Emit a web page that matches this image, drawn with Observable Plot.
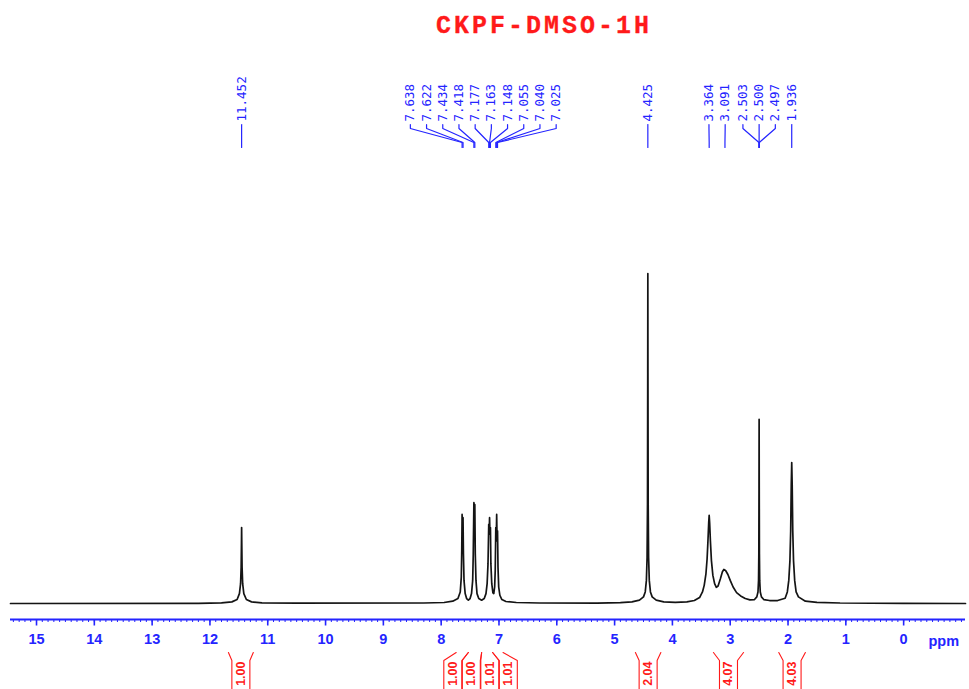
<!DOCTYPE html>
<html><head><meta charset="utf-8">
<script src="https://cdn.jsdelivr.net/npm/d3@7"></script>
<script src="https://cdn.jsdelivr.net/npm/@observablehq/plot@0.6"></script>
<style>
body{margin:0;background:#fff}
#chart{width:969px;height:689px;overflow:hidden}
</style>
</head><body><div id="chart"></div>
<script>
// ---------- data ----------
const title = "CKPF-DMSO-1H";
const axisUnit = "ppm";
const majorTicks = [15,14,13,12,11,10,9,8,7,6,5,4,3,2,1,0];
const majorTickLabels = ["15","14","13","12","11","10","9","8","7","6","5","4","3","2","1","0"];

// spectrum trace (ppm, relative intensity, tallest = 100)
const tracePpm = [15.45,12.20,11.80,11.62,11.53,11.49,11.47,11.46,11.455,11.452,11.449,11.444,11.434,11.414,11.37,11.28,11.10,10.5,
 8.3,7.95,7.80,7.71,7.67,7.652,7.644,7.638,7.630,7.622,7.615,7.605,7.585,7.56,7.53,7.50,7.475,7.455,7.445,7.434,7.426,7.418,7.410,7.398,7.38,7.35,7.30,
 7.255,7.225,7.205,7.19,7.177,7.170,7.163,7.156,7.148,7.140,7.125,7.105,7.09,7.075,7.065,7.055,7.048,7.040,7.033,7.025,7.017,7.005,6.985,6.95,6.88,6.70,6.30,
 5.30,4.90,4.70,4.57,4.50,4.47,4.45,4.438,4.431,4.427,4.425,4.423,4.419,4.412,4.400,4.38,4.35,4.28,4.15,
 3.95,3.75,3.62,3.53,3.48,3.45,3.42,3.40,3.385,3.372,3.364,3.356,3.343,3.325,3.30,3.27,3.24,3.21,3.17,3.135,3.11,3.08,3.04,3.00,2.95,2.89,2.82,2.74,2.66,2.58,
 2.54,2.52,2.51,2.505,2.502,2.500,2.498,2.495,2.490,2.480,2.46,2.42,2.32,2.18,
 2.05,2.012,1.987,1.967,1.954,1.944,1.936,1.928,1.918,1.905,1.885,1.86,1.82,1.70,1.50,1.10,0.0,-1.07];
const traceInt = [0,0.05,0.2,0.5,1.2,3,6,11,18,23,18,11,6,3,1.2,0.5,0.2,0.1,
 0.15,0.3,0.7,1.5,3.5,8,16,27,20,26,15,7,3,1.5,1.0,1.5,3,7,15,30.6,25,30,15,7,3,1.5,1.0,
 1.5,3,6,12,24,21,26,21,23,12,6,3.2,3,5,10,23,19,27,19,22,11,5,2.5,1.2,0.6,0.3,0.15,
 0.1,0.25,0.5,1.0,2,3.5,7,14,30,70,100,70,30,14,7,3.5,2,1.0,0.5,
 0.35,0.5,0.9,1.8,3.5,5.5,9,13.5,19,24.5,26.7,24.5,19,13,8.5,6,4.9,5.3,7.5,9.6,10.3,10,8.8,7,5,3.3,2.3,1.5,1.1,1.2,
 2.0,3.5,7,15,35,55.8,35,15,7,3.5,2.0,1.2,0.9,0.9,
 1.6,3.5,7,13,22,36,42.7,36,22,13,7,3.5,2,0.7,0.35,0.15,0.05,0];

// peak picking labels
const peakLabels = ["11.452","7.638","7.622","7.434","7.418","7.177","7.163","7.148","7.055","7.040","7.025","4.425","3.364","3.091","2.503","2.500","2.497","1.936"];

// integration regions (ppm) and values
const integralFrom = [11.68, 7.74, 7.53, 7.30, 7.11, 4.64, 3.29, 2.16];
const integralTo   = [11.25, 7.53, 7.30, 7.11, 6.93, 4.20, 2.77, 1.70];
const integralValues = ["1.00","1.00","1.00","1.01","1.01","2.04","4.07","4.03"];

// ---------- layout ----------
const W = 969, H = 689;
const xDomain = [15.45, -1.07];
const xLeft = 10, xRight = 965;
const base = 603, pxPerUnit = 3.3, axisY = 619;
const yv = px => (base - px) / pxPerUnit;      // pixel row -> intensity units
const xs = d3.scaleLinear().domain(xDomain).range([xLeft, xRight]);

const blue = "#2424ff", red = "#ff1a1a";

function spread(pos, gap) {
  let cl = pos.map((p, i) => ({idx: [i], c: p}));
  let changed = true;
  while (changed) {
    changed = false;
    for (let i = 0; i < cl.length - 1; i++) {
      const a = cl[i], b = cl[i + 1];
      const aR = a.c + (a.idx.length - 1) * gap / 2;
      const bL = b.c - (b.idx.length - 1) * gap / 2;
      if (bL - aR < gap - 1e-9) {
        const idx = [...a.idx, ...b.idx];
        cl.splice(i, 2, {idx, c: d3.mean(idx, j => pos[j])});
        changed = true; break;
      }
    }
  }
  const out = [];
  for (const c of cl) c.idx.forEach((j, k) => out[j] = c.c + (k - (c.idx.length - 1) / 2) * gap);
  return out;
}

const trace = tracePpm.map((p, i) => ({ppm: p, v: traceInt[i]}));

// peak labels
const peakPx = peakLabels.map(s => xs(+s));
const labPx = spread(peakPx, 16.2);
const peakRows = peakLabels.map((s, i) => ({text: s, x: xs.invert(labPx[i]), px: +s}));
const connectors = [];
peakLabels.forEach((s, i) => {
  const lx = xs.invert(labPx[i]), px = +s;
  connectors.push({k: i, x: lx, y: yv(124)}, {k: i, x: lx, y: yv(128)},
                  {k: i, x: px, y: yv(142)}, {k: i, x: px, y: yv(147)});
});

// integrals
const intCenterPx = integralFrom.map((a, i) => (xs(a) + xs(integralTo[i])) / 2);
const boxPx = spread(intCenterPx, 18.5);
const half = 9;
const brackets = [];
integralFrom.forEach((a, i) => {
  const c = boxPx[i];
  brackets.push({k: "l" + i, x: a, y: yv(652)}, {k: "l" + i, x: xs.invert(c - half), y: yv(660)}, {k: "l" + i, x: xs.invert(c - half), y: yv(700)});
  brackets.push({k: "r" + i, x: integralTo[i], y: yv(652)}, {k: "r" + i, x: xs.invert(c + half), y: yv(660)}, {k: "r" + i, x: xs.invert(c + half), y: yv(700)});
});
const intRows = integralValues.map((t, i) => ({text: t, x: xs.invert(boxPx[i])}));

// axis ticks
const minorTicks = d3.range(154, -11, -1).map(d => d / 10);
const tickY1 = yv(axisY);

const chart = Plot.plot({
  width: W, height: H,
  marginLeft: xLeft, marginRight: W - xRight, marginTop: 0, marginBottom: H - axisY,
  x: {domain: xDomain, axis: null},
  y: {domain: [yv(axisY), yv(0)], axis: null},
  style: {background: "#fff", overflow: "visible"},
  marks: [
    // title
    Plot.text([title], {frameAnchor: "top", dx: 56, dy: 24, text: d => d, fill: red,
      fontFamily: "Liberation Mono, DejaVu Sans Mono, monospace", fontWeight: "bold", fontSize: 25,
      lineAnchor: "middle", stroke: red, strokeWidth: 0.3}),
    // spectrum
    Plot.line(trace, {x: "ppm", y: "v", stroke: "#141414", strokeWidth: 1.7, curve: "linear"}),
    // x axis
    Plot.ruleY([tickY1], {x1: xDomain[0], x2: xDomain[1], stroke: blue, strokeWidth: 1.8}),
    Plot.ruleX(minorTicks, {x: d => d, y1: tickY1, y2: yv(axisY + 3), stroke: blue, strokeWidth: 1}),
    Plot.ruleX(majorTicks, {x: d => d, y1: tickY1, y2: yv(axisY + 6.5), stroke: blue, strokeWidth: 1.6}),
    Plot.text(majorTicks, {x: d => d, y: yv(639), text: (d, i) => majorTickLabels[i], fill: blue,
      fontFamily: "Liberation Sans, Arial, sans-serif", fontWeight: "bold", fontSize: 14.5, lineAnchor: "middle"}),
    Plot.text([axisUnit], {x: xs.invert(928), y: yv(641), text: d => d, fill: blue, textAnchor: "start",
      fontFamily: "Liberation Sans, Arial, sans-serif", fontWeight: "bold", fontSize: 14.5, lineAnchor: "middle"}),
    // peak labels
    Plot.line(connectors, {x: "x", y: "y", z: "k", stroke: blue, strokeWidth: 1.2}),
    Plot.text(peakRows, {x: "x", y: yv(121), text: "text", rotate: -90, textAnchor: "start", lineAnchor: "middle",
      fill: blue, fontFamily: "DejaVu Sans Mono, monospace", fontSize: 12.5}),
    // integrals
    Plot.line(brackets, {x: "x", y: "y", z: "k", stroke: red, strokeWidth: 1.1}),
    Plot.text(intRows, {x: "x", y: yv(661), text: "text", rotate: -90, textAnchor: "end", lineAnchor: "middle",
      fill: red, fontFamily: "Liberation Sans, Arial, sans-serif", fontSize: 12.5, fontWeight: "bold"})
  ]
});
// wide, typewriter-like spacing of the title
d3.select(chart).selectAll("text").filter(function() { return this.textContent === title; })
  .style("letter-spacing", "3px");
document.getElementById("chart").appendChild(chart);
</script>
</body></html>
